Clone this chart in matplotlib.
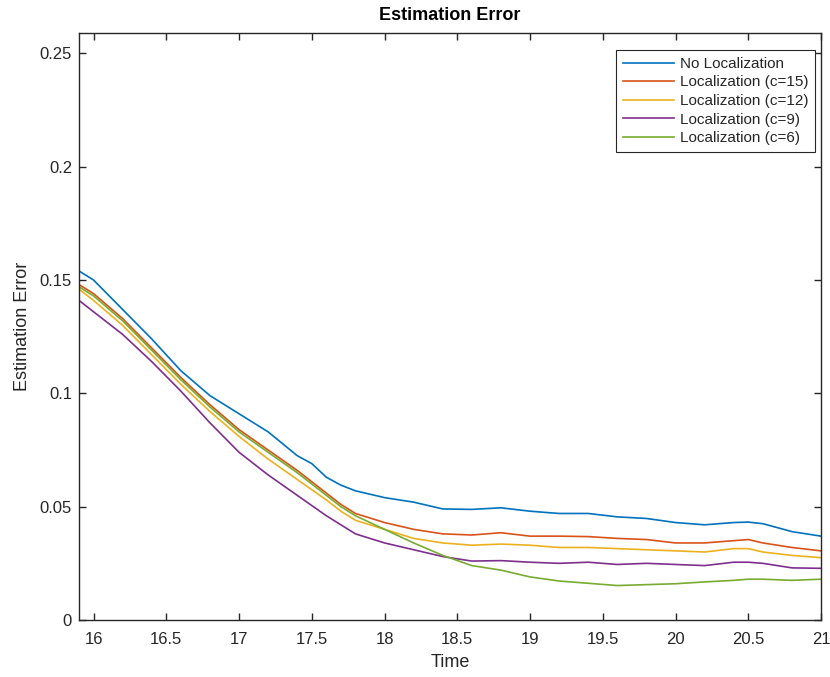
import matplotlib
matplotlib.use("Agg")
import matplotlib.pyplot as plt

plt.rcParams['font.family'] = ['Liberation Sans', 'DejaVu Sans']

time = [15.9, 16.0, 16.2, 16.4, 16.6, 16.8, 17.0, 17.2, 17.4, 17.5, 17.6, 17.7, 17.8,
        18.0, 18.2, 18.4, 18.6, 18.8, 19.0, 19.2, 19.4, 19.6, 19.8, 20.0, 20.2, 20.4,
        20.5, 20.6, 20.8, 21.0]

no_loc = [0.154, 0.150, 0.137, 0.124, 0.110, 0.099, 0.091, 0.083, 0.0725, 0.069, 0.063,
          0.0595, 0.057, 0.054, 0.052, 0.049, 0.0488, 0.0495, 0.048, 0.047, 0.047, 0.0455,
          0.0448, 0.043, 0.042, 0.043, 0.0432, 0.0425, 0.039, 0.037]
loc_c15 = [0.148, 0.144, 0.133, 0.120, 0.107, 0.095, 0.084, 0.075, 0.066, 0.061, 0.056,
           0.051, 0.047, 0.043, 0.040, 0.038, 0.0375, 0.0385, 0.037, 0.037, 0.0368, 0.036,
           0.0355, 0.034, 0.034, 0.035, 0.0355, 0.034, 0.032, 0.0305]
loc_c12 = [0.146, 0.141, 0.130, 0.117, 0.104, 0.092, 0.081, 0.071, 0.062, 0.0575, 0.053,
           0.048, 0.044, 0.040, 0.036, 0.034, 0.033, 0.0335, 0.033, 0.032, 0.032, 0.0315,
           0.031, 0.0305, 0.030, 0.0315, 0.0315, 0.030, 0.0285, 0.0275]
loc_c9 = [0.141, 0.136, 0.126, 0.114, 0.101, 0.087, 0.074, 0.064, 0.055, 0.0505, 0.046,
          0.042, 0.038, 0.034, 0.031, 0.028, 0.026, 0.0262, 0.0255, 0.025, 0.0255, 0.0245,
          0.025, 0.0245, 0.024, 0.0255, 0.0255, 0.025, 0.023, 0.0228]
loc_c6 = [0.147, 0.143, 0.132, 0.119, 0.106, 0.094, 0.083, 0.074, 0.065, 0.060, 0.055,
          0.050, 0.046, 0.040, 0.034, 0.0285, 0.024, 0.022, 0.019, 0.0172, 0.0162, 0.0152,
          0.0156, 0.016, 0.0168, 0.0175, 0.018, 0.018, 0.0175, 0.018]

labels = ['No Localization', 'Localization (c=15)', 'Localization (c=12)',
          'Localization (c=9)', 'Localization (c=6)']
series = [no_loc, loc_c15, loc_c12, loc_c9, loc_c6]
colors = ['#0072BD', '#D95319', '#EDB120', '#7E2F8E', '#77AC30']

fig = plt.figure(figsize=(8.3, 6.77), dpi=100)
ax = fig.add_axes([79/830, 57/677, (821-79)/830, (620-33)/677])

for s, lab, c in zip(series, labels, colors):
    ax.plot(time, s, color=c, lw=1.2, label=lab)

ax.set_xlim(15.9, 21.0)
ax.set_ylim(0, 0.259)
ax.set_xticks([16, 16.5, 17, 17.5, 18, 18.5, 19, 19.5, 20, 20.5, 21])
ax.set_xticklabels(['16', '16.5', '17', '17.5', '18', '18.5', '19', '19.5', '20', '20.5', '21'])
ax.set_yticks([0, 0.05, 0.1, 0.15, 0.2, 0.25])
ax.set_yticklabels(['0', '0.05', '0.1', '0.15', '0.2', '0.25'])
ax.tick_params(direction='in', length=5, width=1.0, top=True, right=True,
               labelsize=12, colors='#262626', labelcolor='#262626', pad=5)
ax.tick_params(axis='x', pad=9)
for sp in ax.spines.values():
    sp.set_color('#262626')
    sp.set_linewidth(1.0)

ax.set_title('Estimation Error', fontsize=13, fontweight='bold', color='black', pad=9)
ax.set_xlabel('Time', fontsize=13, color='#262626', labelpad=5)
ax.set_ylabel('Estimation Error', fontsize=13, color='#262626', labelpad=6)

leg = ax.legend(loc='upper right', bbox_to_anchor=(815/830, 1 - 50/677),
                bbox_transform=fig.transFigure, fontsize=11, handlelength=3.3,
                handletextpad=0.4, labelspacing=0.3, borderpad=0.45,
                fancybox=False, framealpha=1, edgecolor='#262626', borderaxespad=0)
leg.get_frame().set_linewidth(0.8)
for t in leg.get_texts():
    t.set_color('#262626')

fig.savefig('out.png', dpi=100)
